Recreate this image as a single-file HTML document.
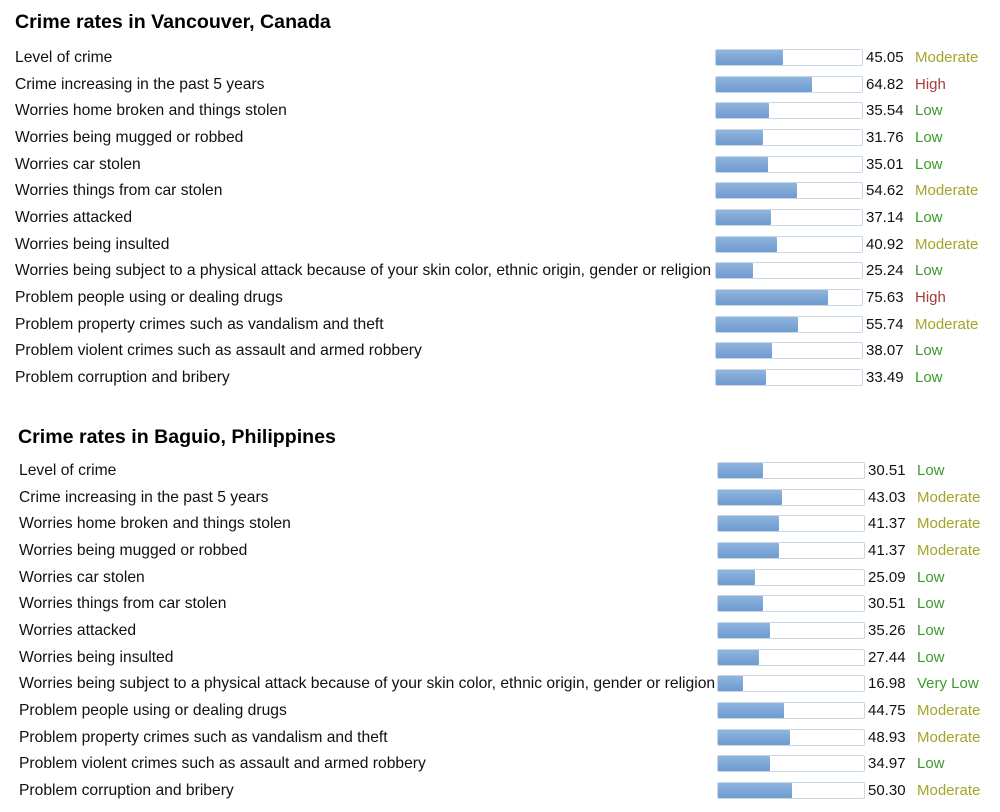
<!DOCTYPE html>
<html><head><meta charset="utf-8"><style>
body{margin:0;width:1000px;height:812px;background:#fff;font-family:"Liberation Sans",sans-serif;position:relative;overflow:hidden}
.t{position:absolute;font-weight:bold;font-size:19.6px;color:#000;white-space:nowrap}
.l,.v,.c{position:absolute;font-size:15px;color:#111;white-space:nowrap;line-height:18px}
.l{font-size:15.65px}
.box{position:absolute;height:17px;border:1px solid #c9d6e6;border-radius:2px;background:#fff;box-sizing:border-box}
.fill{position:absolute;left:0;top:0;bottom:0;background:linear-gradient(#8fb4de,#6f9bd0);border-radius:1px}
</style></head><body>
<div id="root"></div>
<script>
const labels=["Level of crime","Crime increasing in the past 5 years","Worries home broken and things stolen","Worries being mugged or robbed","Worries car stolen","Worries things from car stolen","Worries attacked","Worries being insulted","Worries being subject to a physical attack because of your skin color, ethnic origin, gender or religion","Problem people using or dealing drugs","Problem property crimes such as vandalism and theft","Problem violent crimes such as assault and armed robbery","Problem corruption and bribery"];
const vancouverValues=[45.05,64.82,35.54,31.76,35.01,54.62,37.14,40.92,25.24,75.63,55.74,38.07,33.49];
const baguioValues=[30.51,43.03,41.37,41.37,25.09,30.51,35.26,27.44,16.98,44.75,48.93,34.97,50.30];
const sections=[
 {title:"Crime rates in Vancouver, Canada",values:vancouverValues,tx:15,ty:11,lx:15,y0:59,bx:715,name:"vancouver"},
 {title:"Crime rates in Baguio, Philippines",values:baguioValues,tx:18,ty:426,lx:19,y0:472,bx:717,name:"baguio"}];
function cat(v){if(v<20)return["Very Low","#3c9a2c"];if(v<40)return["Low","#3c9a2c"];if(v<60)return["Moderate","#a6a329"];return["High","#a83a3a"];}
const root=document.getElementById('root');
const BW=148,STEP=26.67;
function x(v){return v/100*BW;}
sections.forEach(s=>{
 const t=document.createElement('div');t.className='t';t.textContent=s.title;t.style.left=s.tx+'px';t.style.top=s.ty+'px';
 
 
 root.appendChild(t);
 s.values.forEach((v,i)=>{
  const y=s.y0+i*STEP;
  const l=document.createElement('div');l.className='l';l.textContent=labels[i];l.style.left=s.lx+'px';l.style.top=(y-10)+'px';
  
  
  root.appendChild(l);
  const b=document.createElement('div');b.className='box';b.style.left=s.bx+'px';b.style.top=(y-10)+'px';b.style.width=BW+'px';
  
  
  const f=document.createElement('div');f.className='fill';f.style.width=x(v)+'px';
  
  
  b.appendChild(f);root.appendChild(b);
  const vt=document.createElement('div');vt.className='v';vt.textContent=v.toFixed(2);vt.style.left=(s.bx+BW+3)+'px';vt.style.top=(y-10)+'px';
  
  
  root.appendChild(vt);
  const c=cat(v);const ct=document.createElement('div');ct.className='c';ct.textContent=c[0];ct.style.color=c[1];ct.style.left=(s.bx+BW+52)+'px';ct.style.top=(y-10)+'px';
  
  
  root.appendChild(ct);
 });
});
</script>
</body></html>
